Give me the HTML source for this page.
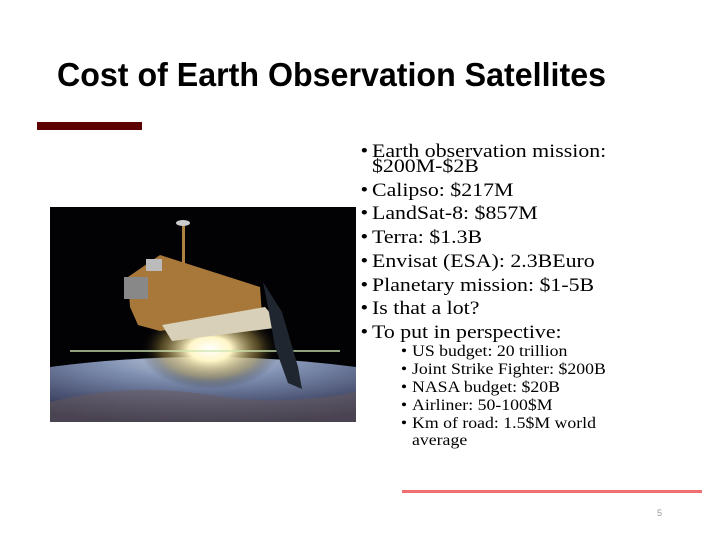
<!DOCTYPE html>
<html><head><meta charset="utf-8">
<style>
body{margin:0;background:#fff;}
#slide{position:relative;width:720px;height:540px;overflow:hidden;background:#fff;font-family:"Liberation Serif",serif;color:#000;}
.t{position:absolute;white-space:nowrap;transform-origin:0 0;}
.b1{font-size:19px;left:372px;transform:scaleX(1.15);}
.b2{font-size:16px;left:412px;transform:scaleX(1.11);}
.bul1{position:absolute;left:-10px;}
.bul2{position:absolute;left:-10px;}
</style></head>
<body>
<div id="slide">
<svg class="t" style="left:0;top:0" width="720" height="110">
<text x="57" y="86" font-family="Liberation Sans, sans-serif" font-weight="bold" font-size="33" textLength="549" lengthAdjust="spacingAndGlyphs">Cost of Earth Observation Satellites</text>
</svg>
<div style="position:absolute;left:37px;top:122px;width:105px;height:8px;background:#5e0000"></div>

<svg style="position:absolute;left:50px;top:207px" width="306" height="215" viewBox="0 0 306 215">
<defs>
<radialGradient id="earth" cx="0.5" cy="0" r="1">
<stop offset="0" stop-color="#c8d2e4"/><stop offset="0.35" stop-color="#7f8fb0"/><stop offset="0.7" stop-color="#4f5778"/><stop offset="1" stop-color="#2b2f4a"/></radialGradient>
<radialGradient id="sun" cx="0.5" cy="0.5" r="0.5">
<stop offset="0" stop-color="#fff"/><stop offset="0.3" stop-color="#fff6c8"/><stop offset="0.7" stop-color="#a08840" stop-opacity="0.5"/><stop offset="1" stop-color="#000" stop-opacity="0"/></radialGradient>
</defs>
<rect width="306" height="215" fill="#020205"/>
<path d="M0,160 Q153,140 306,160 L306,215 L0,215 Z" fill="url(#earth)"/>
<path d="M0,195 Q80,175 160,188 Q230,200 306,185 L306,215 L0,215Z" fill="#6a5a5a" opacity="0.5"/>
<ellipse cx="160" cy="142" rx="70" ry="40" fill="url(#sun)"/>
<rect x="20" y="143" width="270" height="2" fill="#cfe6b0" opacity="0.7"/>
<polygon points="78,70 110,48 210,80 212,108 110,124 88,118 80,100" fill="#a8783a"/>
<polygon points="112,118 215,100 232,120 122,134" fill="#d8d0b8"/>
<polygon points="213,75 232,105 248,160 252,182 238,176 225,140 218,100" fill="#202630"/>
<rect x="132" y="18" width="3" height="38" fill="#b08040"/>
<ellipse cx="133" cy="16" rx="7" ry="3" fill="#ccc"/>
<rect x="74" y="70" width="24" height="22" fill="#888"/>
<rect x="96" y="52" width="16" height="12" fill="#bbb"/>
</svg>

<div class="t b1" style="top:141px"><span class="bul1">•</span>Earth observation mission:</div>
<div class="t b1" style="top:157px;line-height:1">$200M-$2B</div>
<div class="t b1" style="top:180px"><span class="bul1">•</span>Calipso: $217M</div>
<div class="t b1" style="top:203px"><span class="bul1">•</span>LandSat-8: $857M</div>
<div class="t b1" style="top:227px"><span class="bul1">•</span>Terra: $1.3B</div>
<div class="t b1" style="top:251px"><span class="bul1">•</span>Envisat (ESA): 2.3BEuro</div>
<div class="t b1" style="top:275px"><span class="bul1">•</span>Planetary mission: $1-5B</div>
<div class="t b1" style="top:298px"><span class="bul1">•</span>Is that a lot?</div>
<div class="t b1" style="top:322px"><span class="bul1">•</span>To put in perspective:</div>
<div class="t b2" style="top:343px"><span class="bul2">•</span>US budget: 20 trillion</div>
<div class="t b2" style="top:361px"><span class="bul2">•</span>Joint Strike Fighter: $200B</div>
<div class="t b2" style="top:379px"><span class="bul2">•</span>NASA budget: $20B</div>
<div class="t b2" style="top:397px"><span class="bul2">•</span>Airliner: 50-100$M</div>
<div class="t b2" style="top:415px"><span class="bul2">•</span>Km of road: 1.5$M world</div>
<div class="t b2" style="top:432px">average</div>

<div style="position:absolute;left:402px;top:490px;width:300px;height:3px;background:#f07070"></div>
<div class="t" style="left:657px;top:508px;font-family:'Liberation Sans',sans-serif;font-size:9px;color:#999">5</div>
</div>
</body></html>
